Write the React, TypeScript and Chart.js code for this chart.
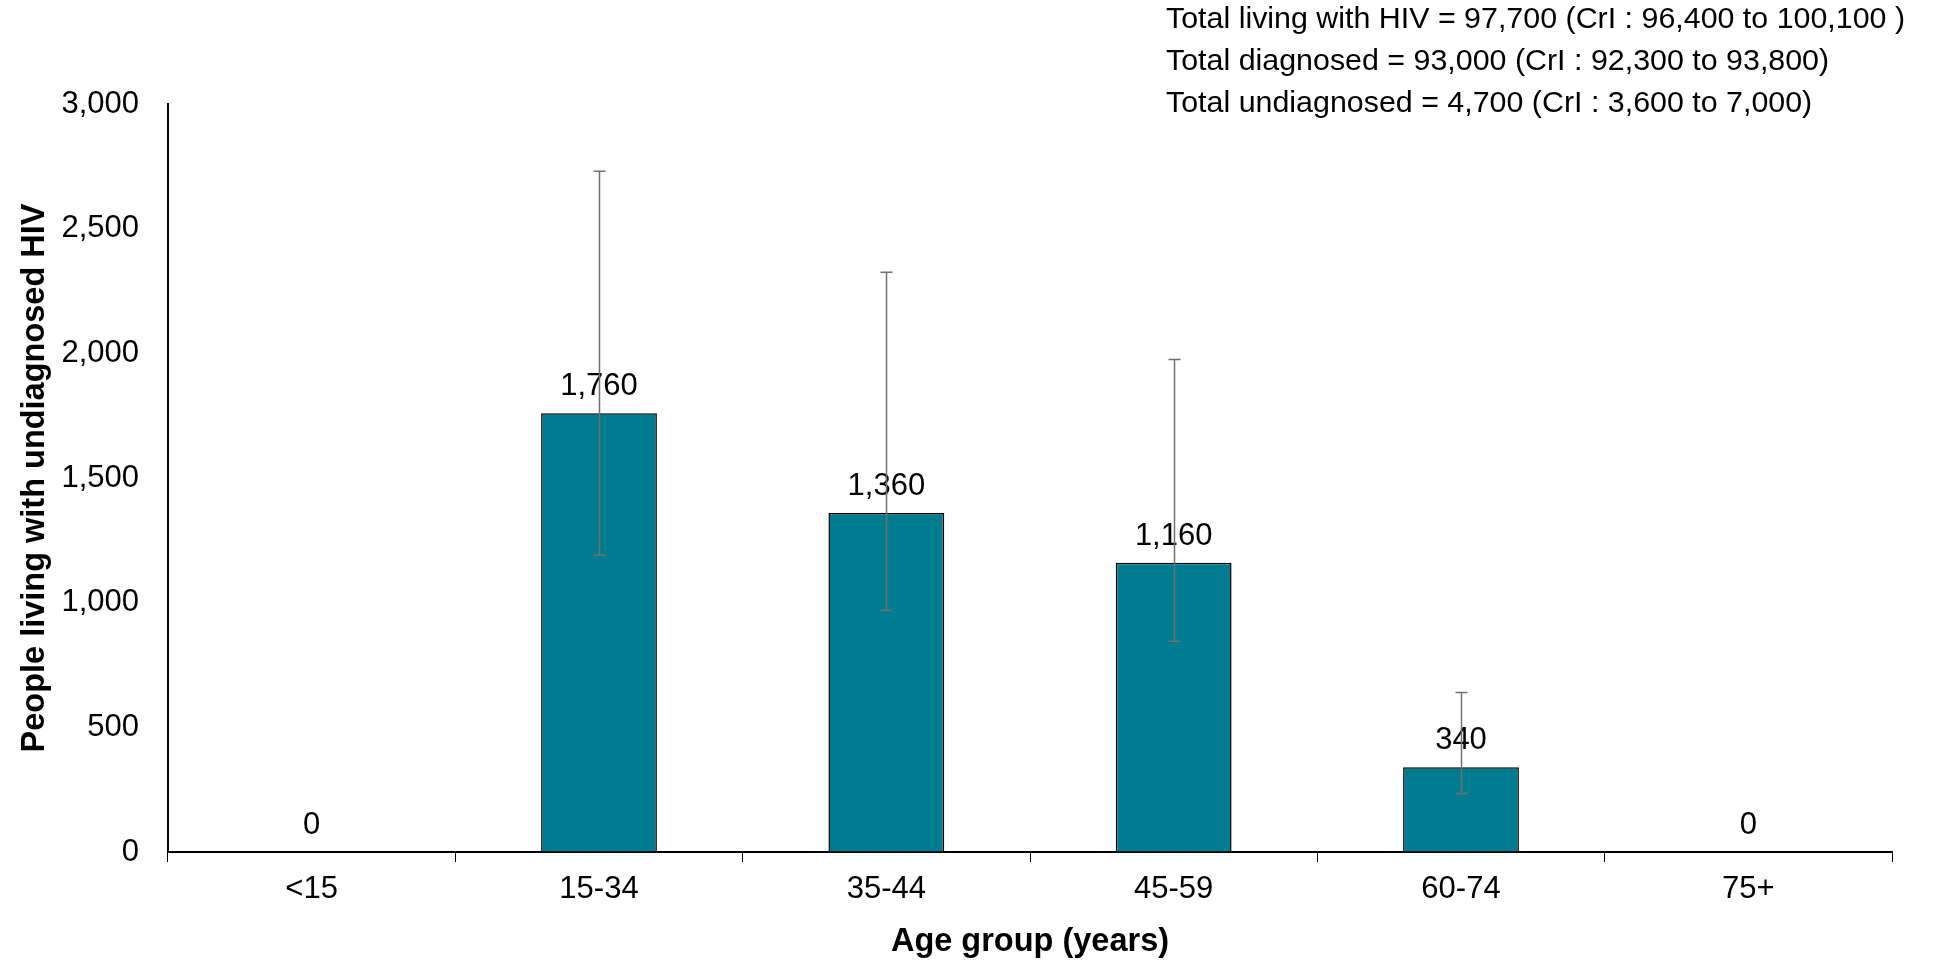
import React, { useEffect, useRef } from 'react';
import { Chart, registerables } from 'chart.js';

Chart.register(...registerables);

const FONT = '"Liberation Sans", Arial, Helvetica, sans-serif';

const categories = ['<15', '15-34', '35-44', '45-59', '60-74', '75+'];
const undiagnosed = [0, 1760, 1360, 1160, 340, 0];
const ciLower: (number | null)[] = [null, 1190, 970, 845, 235, null];
const ciUpper: (number | null)[] = [null, 2730, 2325, 1975, 640, null];
const yTicks = [0, 500, 1000, 1500, 2000, 2500, 3000];
const summaryLines = [
  'Total living with HIV = 97,700 (CrI : 96,400 to 100,100 )',
  'Total diagnosed = 93,000 (CrI : 92,300 to 93,800)',
  'Total undiagnosed = 4,700 (CrI : 3,600 to 7,000)',
];

const fmt = (v: number) => Number(v).toLocaleString('en-US');

const overlayPlugin = {
  id: 'overlay',
  afterDatasetsDraw(chart: any) {
    const ctx = chart.ctx;
    const meta = chart.getDatasetMeta(0);
    const y = chart.scales.y;
    ctx.save();
    // value labels
    ctx.font = `31px ${FONT}`;
    ctx.fillStyle = '#000';
    ctx.textAlign = 'center';
    ctx.textBaseline = 'alphabetic';
    meta.data.forEach((bar: any, i: number) => {
      ctx.fillText(fmt(undiagnosed[i]), bar.x, bar.y - 18);
    });
    // error bars
    ctx.strokeStyle = '#707070';
    ctx.lineWidth = 1.5;
    meta.data.forEach((bar: any, i: number) => {
      const lo = ciLower[i];
      const hi = ciUpper[i];
      if (lo == null || hi == null) return;
      const yl = y.getPixelForValue(lo);
      const yh = y.getPixelForValue(hi);
      const x = Math.round(bar.x) + 0.5;
      ctx.beginPath();
      ctx.moveTo(x, yl);
      ctx.lineTo(x, yh);
      ctx.moveTo(x - 6, yl);
      ctx.lineTo(x + 6, yl);
      ctx.moveTo(x - 6, yh);
      ctx.lineTo(x + 6, yh);
      ctx.stroke();
    });
    // summary text
    ctx.font = `30.4px ${FONT}`;
    ctx.textAlign = 'left';
    ctx.fillStyle = '#000';
    const left = chart.width - 791;
    summaryLines.forEach((t, i) => {
      ctx.fillText(t, left, 28 + i * 42);
    });
    ctx.restore();
  },
};

export default function App() {
  const canvasRef = useRef<HTMLCanvasElement | null>(null);

  useEffect(() => {
    if (!canvasRef.current) return;
    const chart = new Chart(canvasRef.current, {
      type: 'bar',
      data: {
        labels: categories,
        datasets: [
          {
            data: undiagnosed,
            backgroundColor: '#007C91',
            borderColor: '#000000',
            borderWidth: 1.5,
            barPercentage: 0.403,
            categoryPercentage: 1,
          },
        ],
      },
      options: {
        responsive: false,
        animation: false,
        devicePixelRatio: 1,
        layout: { padding: { top: 104, right: 65, bottom: 0, left: 0 } },
        plugins: {
          legend: { display: false },
          tooltip: { enabled: false },
          title: { display: false },
        },
        scales: {
          x: {
            grid: {
              display: true,
              drawOnChartArea: false,
              drawTicks: true,
              tickLength: 10,
              color: '#000',
              lineWidth: 1,
              offset: true,
            },
            border: { display: true, color: '#000', width: 2 },
            ticks: {
              color: '#000',
              font: { family: FONT, size: 31 },
              padding: 9,
              maxRotation: 0,
              autoSkip: false,
            },
            title: {
              display: true,
              text: 'Age group (years)',
              color: '#000',
              font: { family: FONT, size: 32.5, weight: 'bold' },
              padding: { top: 0, bottom: 3 },
            },
            afterFit: (s: any) => {
              s.height = 113;
              s.paddingLeft = 0;
              s.paddingRight = 0;
            },
          },
          y: {
            min: 0,
            max: 3000,
            afterBuildTicks: (s: any) => {
              s.ticks = yTicks.map((v) => ({ value: v }));
            },
            grid: { display: true, drawOnChartArea: false, drawTicks: false },
            border: { display: true, color: '#000', width: 2 },
            ticks: {
              color: '#000',
              font: { family: FONT, size: 31 },
              padding: 29,
              callback: (v: any) => fmt(v),
            },
            title: {
              display: true,
              text: 'People living with undiagnosed HIV',
              color: '#000',
              font: { family: FONT, size: 32.5, weight: 'bold' },
              padding: { top: 16, bottom: 0 },
            },
            afterFit: (s: any) => {
              s.width = 168;
              s.paddingTop = 0;
              s.paddingBottom = 0;
            },
          },
        },
      } as any,
      plugins: [overlayPlugin],
    });
    return () => chart.destroy();
  }, []);

  return (
    <div
      style={{
        position: 'fixed',
        left: 0,
        top: 0,
        width: 1957,
        height: 965,
        background: '#fff',
      }}
    >
      <canvas ref={canvasRef} width={1957} height={965} style={{ display: 'block' }} />
    </div>
  );
}
